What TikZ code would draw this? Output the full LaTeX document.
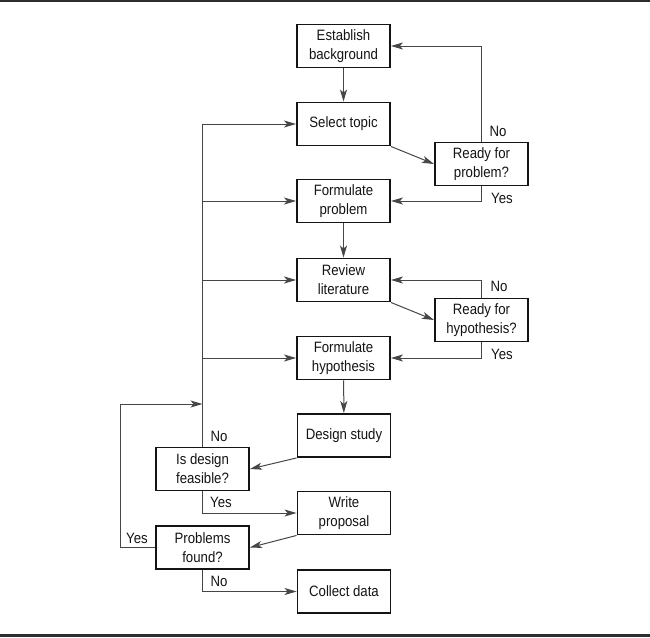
\documentclass[tikz,border=0pt]{standalone}
\usepackage{fontspec}
\setmainfont[FakeStretch=0.88]{Liberation Sans}
\usetikzlibrary{calc,arrows.meta,positioning}
\definecolor{boxblack}{RGB}{20,20,20}
\definecolor{linegray}{RGB}{70,70,70}
\definecolor{rulegray}{RGB}{45,45,45}

\begin{document}
\begin{tikzpicture}[x=1pt,y=-1pt,
  box/.style={draw=boxblack, line width=1.9pt, minimum width=93pt, minimum height=43pt,
    align=center, inner sep=2pt, font=\fontsize{15}{19}\selectfont, text=boxblack},
  flow/.style={draw=linegray, line width=1pt, -{Stealth[length=12pt,width=7pt,inset=3pt]}},
  lbl/.style={font=\fontsize{15}{19}\selectfont, text=boxblack}]
\useasboundingbox (0,0) rectangle (650,637);
\fill[rulegray] (0,0) rectangle (650,2);
\fill[rulegray] (0,634) rectangle (650,637);

% main column
\node[box] (bg) at (343.5,46) {Establish\\background};
\node[box] (topic) at (343.5,124) {Select topic};
\node[box] (prob) at (343.5,201) {Formulate\\problem};
\node[box] (lit) at (343.5,280) {Review\\literature};
\node[box] (hyp) at (343.5,358) {Formulate\\hypothesis};
\node[box] (design) at (344,435.5) {Design study};
\node[box] (write) at (344,513) {Write\\proposal};
\node[box] (collect) at (344,591.5) {Collect data};

% decisions
\node[box] (readyp) at (481.5,164) {Ready for\\problem?};
\node[box] (readyh) at (481.5,320) {Ready for\\hypothesis?};
\node[box] (feas) at (202.5,469) {Is design\\feasible?};
\node[box] (found) at (202.5,547.5) {Problems\\found?};

\draw[flow] (bg) -- (topic);
\draw[flow] (topic.south east) -- (readyp.west);
\draw[flow] (readyp.north) |- (bg.east);
\draw[flow] (readyp.south) |- (prob.east);
\draw[flow] (prob) -- (lit);
\draw[flow] (lit.south east) -- (readyh.west);
\draw[flow] (readyh.north) |- (lit.east);
\draw[flow] (readyh.south) |- (hyp.east);
\draw[flow] (hyp) -- (design);
\draw[flow] (design.south west) -- (feas.east);

% return bus on the left
\draw[flow] (feas.north) |- (topic.west);
\draw[flow] (feas.north |- prob.west) -- (prob.west);
\draw[flow] (feas.north |- lit.west) -- (lit.west);
\draw[flow] (feas.north |- hyp.west) -- (hyp.west);
\coordinate (loopturn) at (120,404);
\coordinate (loopin) at (feas.north |- loopturn);
\draw[flow] (found.west) -| (loopturn) -- (loopin);

\draw[flow] (feas.south) |- (write.west);
\draw[flow] (write.south west) -- (found.east);
\draw[flow] (found.south) |- (collect.west);

\node[lbl] (noP) at (498,131) {No};
\node[lbl] (yesP) at (502,198) {Yes};
\node[lbl] (noH) at (499,286) {No};
\node[lbl] (yesH) at (502,354) {Yes};
\node[lbl] (noF) at (219,436) {No};
\node[lbl] (yesF) at (221,502) {Yes};
\node[lbl] (yesR) at (137,538) {Yes};
\node[lbl] (noR) at (219,581) {No};
\end{tikzpicture}
\end{document}
